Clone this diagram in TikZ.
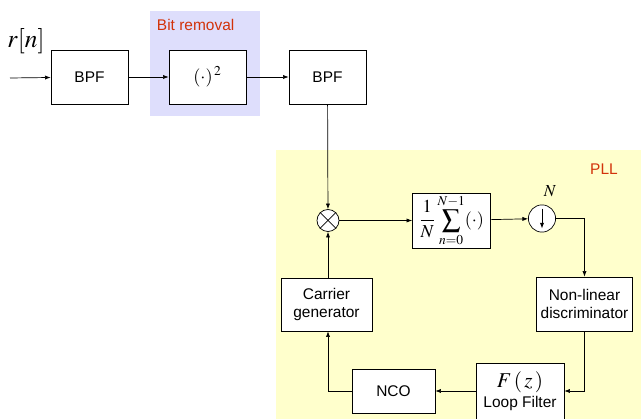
\documentclass[tikz,border=0pt]{standalone}
\usepackage{mathptmx}
\usepackage{fontspec}
\setmainfont{Liberation Sans}
\usepackage{tikz}
\usetikzlibrary{positioning,calc,arrows.meta}
\definecolor{bitblue}{RGB}{222,222,252}
\definecolor{pllyellow}{RGB}{255,255,204}
\definecolor{lblred}{RGB}{210,50,10}

\begin{document}
\begin{tikzpicture}[x=0.025cm, y=-0.025cm,
        box/.style={draw=black, fill=white, line width=0.5pt, minimum width=1.925cm, minimum height=1.35cm, align=center, font=\fontsize{11}{13}\selectfont, inner sep=1pt},
        op/.style={draw=black, fill=white, line width=0.5pt, circle, minimum size=0.55cm, inner sep=0pt},
        arrow/.style={-{Latex[length=4pt,width=3pt]}, line width=0.5pt},
        line/.style={line width=0.5pt},
        tag/.style={font=\fontsize{11}{13}\selectfont, text=lblred}
    ]
        \useasboundingbox (0,0) rectangle (641,419);
        % Regions
        \fill[bitblue] (150,11) rectangle (260,116);
        \fill[pllyellow] (276,150) rectangle (641,419);
        \node[tag, anchor=west] (bitlbl) at (152,25) {Bit removal};
        \node[tag] (plllbl) at (604,169) {PLL};

        % Nodes
        \node (rn) at (26,41) {\fontsize{18}{18}\selectfont$r[n]$};
        \coordinate (in) at (10,78);
        \node (bpfa) [box] at (89.5,77) {BPF};
        \node (square) [box] at (207.5,77) {\fontsize{13}{13}\selectfont$(\cdot)^{\,2}$};
        \node (bpfb) [box] at (327.5,77) {BPF};
        \node (mult) [op, minimum size=0.55cm] at (328,220.5) {};
        \node (avg) [box, minimum width=1.95cm, minimum height=1.375cm] at (451.5,220.5)
            {\fontsize{13}{13}\selectfont$\displaystyle\frac{1}{N}\sum_{n=0}^{N-1}(\cdot)$};
        \node (down) [op, minimum size=0.68cm] at (542,218.5) {};
        \node (nlbl) [above=0.08cm of down, xshift=0.2cm] {\fontsize{12}{12}\selectfont$N$};
        \node (carrier) [box, minimum width=2.275cm, minimum height=1.325cm] at (326.5,304.5) {Carrier\\generator};
        \node (disc) [box, minimum width=2.4cm, minimum height=1.35cm] at (584.5,304) {Non-linear\\discriminator};
        \node (loop) [box, minimum width=2.2cm, minimum height=1.4cm] at (520,391) {\fontsize{15}{15}\selectfont$F\,(\,z\,)$\\[1pt]Loop Filter};
        \node (nco) [box, minimum width=2.075cm, minimum height=1.1cm] at (393.5,391) {NCO};

        % Symbols inside the circles
        \draw[line] (mult.north west) -- (mult.south east);
        \draw[line] (mult.north east) -- (mult.south west);
        \draw[arrow] ($(down.north)+(0,4)$) -- ($(down.south)+(0,-4)$);

        % Arrows
        \draw [arrow] (in) -- (bpfa);
        \draw [arrow] (bpfa) -- (square);
        \draw [arrow] (square) -- (bpfb);
        \draw [arrow] (bpfb) -- (mult);
        \draw [arrow] (mult) -- (avg);
        \draw [arrow] (avg) -- (down);
        \draw [arrow] (down.east) -| (disc.north);
        \draw [arrow] (disc.south) |- (loop.east);
        \draw [arrow] (loop) -- (nco);
        \draw [arrow] (nco.west) -| (carrier.south -| mult);
        \draw [arrow] (carrier.north -| mult) -- (mult);
    \end{tikzpicture}
\end{document}
